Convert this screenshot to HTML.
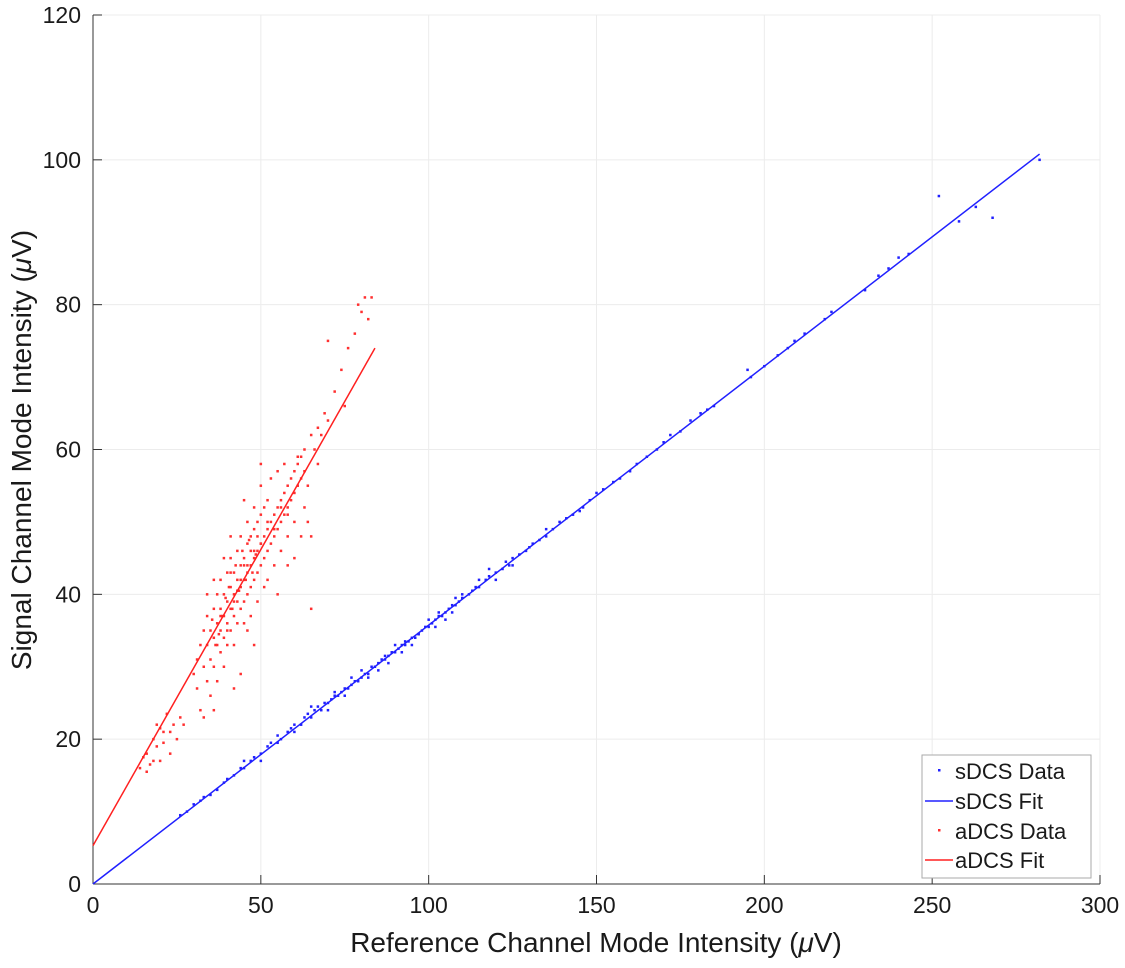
<!DOCTYPE html>
<html><head><meta charset="utf-8"><style>
body{margin:0;background:#fff}
svg text{font-family:"Liberation Sans",sans-serif;fill:#1a1a1a}
</style></head><body>
<svg id="chart" width="1125" height="963" xmlns="http://www.w3.org/2000/svg">
<g id="grid"></g>
<g id="axes"></g>
<g id="marks"></g>
<text x="596" y="952" text-anchor="middle" font-size="28">Reference Channel Mode Intensity (<tspan font-style="italic">μ</tspan>V)</text>
<text transform="translate(31,450) rotate(-90)" text-anchor="middle" font-size="28">Signal Channel Mode Intensity (<tspan font-style="italic">μ</tspan>V)</text>
<g>
<rect x="922" y="755" width="169" height="123" fill="#fff" stroke="#aaa" stroke-width="1"/>
<rect x="938" y="769" width="2.5" height="2.5" fill="#2020ff"/>
<text x="955" y="779" font-size="22">sDCS Data</text>
<line x1="925" y1="801" x2="953" y2="801" stroke="#2020ff" stroke-width="1.5"/>
<text x="955" y="809" font-size="22">sDCS Fit</text>
<rect x="938" y="829" width="2.5" height="2.5" fill="#ff3030"/>
<text x="955" y="839" font-size="22">aDCS Data</text>
<line x1="925" y1="860" x2="953" y2="860" stroke="#ff2020" stroke-width="1.5"/>
<text x="955" y="868" font-size="22">aDCS Fit</text>
</g>
</svg>
<script>
const xTicks=[0,50,100,150,200,250,300];
const yTicks=[0,20,40,60,80,100,120];
const sdcsFit=[[0,0],[282,100.8]];
const adcsFit=[[0,5.3],[84,74]];
const adcsX=[14,15,16,17,18,19,19,20,21,22,23,24,25,26,27,18,16,21,20,23,30,31,31,32,32,33,33,34,34,34,35,35,35,36,36,36,37,37,37,37,38,38,38,38,39,39,39,39,40,40,40,40,41,41,41,41,42,42,42,42,43,43,43,43,44,44,44,44,45,45,45,45,46,46,46,46,47,47,47,47,48,48,48,48,49,49,49,49,50,50,50,50,51,51,51,51,52,52,52,53,53,53,54,54,54,55,55,55,56,56,56,57,57,57,58,58,58,59,59,60,60,60,61,61,62,62,63,63,64,64,65,65,60,55,48,42,36,33,44,46,52,58,62,39,41,45,50,36,34,66,67,67,68,69,70,70,72,74,75,76,78,79,80,81,82,83,65,63,61,35.5,37.5,38.5,39.5,40.5,41.5,42.5,43.5,44.5,45.5,46.5,47.5,48.5,36.5,38,40,42,44,46,48,50,52,54,56,58,41,43,45,47,49];
const adcsY=[16,17.5,18,16.5,20,19,22,17,21,23.5,18,22,20,23,22,17,15.5,19.5,21.5,21,29,31,27,33,24,30,35,28,33,37,31,35,26,34,38,30,36,33,40,28,35,38,32,42,37,34,40,30,36,39,43,33,38,41,35,45,40,37,43,33,39,42,46,36,41,44,38,48,42,45,39,36,43,47,40,50,44,41,48,37,45,42,49,52,46,43,50,39,47,44,51,55,48,45,52,41,49,46,53,50,47,56,51,48,44,52,49,57,53,50,46,54,51,58,55,52,48,56,53,57,54,50,58,55,56,59,52,57,55,50,48,38,45,40,33,27,24,23,29,35,42,44,48,45,48,53,58,42,40,60,63,58,62,65,64,75,68,71,66,74,76,80,79,81,78,81,62,60,59,36.5,34.5,37,39.5,41,38,44,40.5,46,42,47.5,43,45.5,33,37,35,39,42,44,46,47,50,49,52,51,43,40.5,44,46,48];
const sdcsX=[26,28,30,32,33,35,37,39,40,42,44,45,47,48,50,52,53,55,56,58,59,60,62,63,64,65,66,67,68,69,70,71,72,73,74,75,76,77,78,79,80,81,82,83,84,85,86,87,88,89,90,91,92,93,94,95,96,97,98,99,100,101,102,103,104,105,106,107,108,109,110,112,114,115,117,118,120,122,124,125,127,129,131,133,135,137,139,141,143,146,148,150,152,155,157,160,162,165,168,170,172,175,178,181,183,185,195,196,200,204,207,209,212,218,220,230,234,237,240,243,252,258,263,268,282,70,75,80,85,90,95,100,105,110,115,120,125,130,60,65,55,50,45,88,92,102,108,118,135,145,72,77,82,87,93,97,103,107,113,123];
const sdcsY=[9.5,10,11,11.5,12,12.3,13,14,14.5,15,16,16,17,17.5,18,19,19.5,19.5,20,21,21.5,22,22,23,23.5,23,24,24.5,24,25,25,25.5,26,26,26.5,27,27,27.5,28,28,28.5,29,29,30,30,30.5,31,31,31.5,32,32,32.5,33,33,33.5,34,34,34.5,35,35.5,35.5,36,36.5,37,37,37.5,38,38.5,38.5,39,39.5,40,41,41,42,42.5,43,43.5,44,45,45.5,46,47,47.5,48,49,50,50.5,51,52,53,54,54.5,55.5,56,57,58,59,60,61,62,62.5,64,65,65.5,66,71,70,71.5,73,74,75,76,78,79,82,84,85,86.5,87,95,91.5,93.5,92,100,24,26,29.5,29.5,33,33,36.5,36.5,40,42,42,44,46.5,21,24.5,20.5,17,17,30.5,32,35.5,39.5,43.5,49,51.5,26.5,28.5,28.5,31.5,33.5,34.5,37.5,37.5,40.5,44.5];
const NS='http://www.w3.org/2000/svg';
const L=93,R=1100,T=15,B=884;
const sx=v=>L+(v-0)/(300-0)*(R-L);
const sy=v=>B-(v-0)/(120-0)*(B-T);
function mk(tag,attrs,parent){const e=document.createElementNS(NS,tag);for(const k in attrs)e.setAttribute(k,attrs[k]);parent.appendChild(e);return e;}
const grid=document.getElementById('grid'),axes=document.getElementById('axes'),marks=document.getElementById('marks');
xTicks.forEach(t=>{
  const g=mk('line',{x1:sx(t),x2:sx(t),y1:T,y2:B,stroke:'#ececec','stroke-width':1},grid);
  
  
  mk('line',{x1:sx(t),x2:sx(t),y1:B,y2:B-9,stroke:'#333','stroke-width':1},axes);
  const tx=mk('text',{x:sx(t),y:B+29,'text-anchor':'middle','font-size':23},axes);
  tx.textContent=t;
  
  
});
yTicks.forEach(t=>{
  const g=mk('line',{x1:L,x2:R,y1:sy(t),y2:sy(t),stroke:'#ececec','stroke-width':1},grid);
  
  
  mk('line',{x1:L,x2:L+9,y1:sy(t),y2:sy(t),stroke:'#333','stroke-width':1},axes);
  const tx=mk('text',{x:L-12,y:sy(t)+8,'text-anchor':'end','font-size':23},axes);
  tx.textContent=t;
  
  
});
const xa=mk('line',{x1:L,x2:R,y1:B,y2:B,stroke:'#333','stroke-width':1},axes);


const ya=mk('line',{x1:L,x2:L,y1:T,y2:B,stroke:'#333','stroke-width':1},axes);


function dots(xs,ys,color,name){
  xs.forEach((x,i)=>{
    const d=mk('rect',{x:sx(x)-1.25,y:sy(ys[i])-1.25,width:2.5,height:2.5,fill:color},marks);
    
    
  });
}
dots(adcsX,adcsY,'#ff3030','adcs-point');
dots(sdcsX,sdcsY,'#2020ff','sdcs-point');
const f1=mk('line',{x1:sx(sdcsFit[0][0]),y1:sy(sdcsFit[0][1]),x2:sx(sdcsFit[1][0]),y2:sy(sdcsFit[1][1]),stroke:'#2020ff','stroke-width':1.5},marks);


const f2=mk('line',{x1:sx(adcsFit[0][0]),y1:sy(adcsFit[0][1]),x2:sx(adcsFit[1][0]),y2:sy(adcsFit[1][1]),stroke:'#ff2020','stroke-width':1.5},marks);


</script>
</body></html>
